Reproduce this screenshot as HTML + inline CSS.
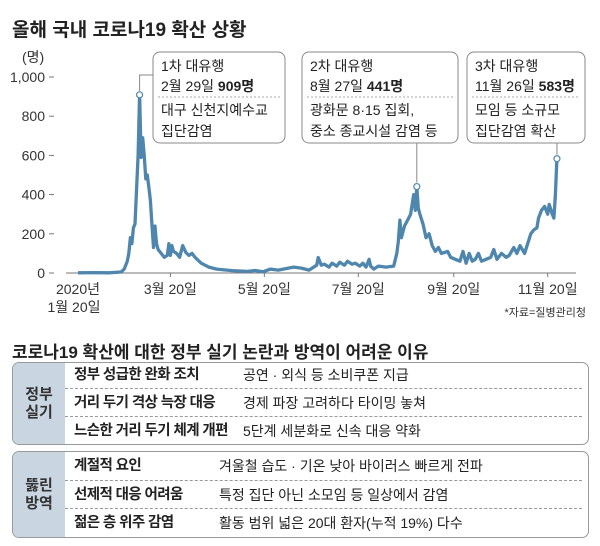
<!DOCTYPE html>
<html><head><meta charset="utf-8">
<style>
body{margin:0;background:#fff;width:600px;height:546px;overflow:hidden;font-family:"Liberation Sans","Noto Sans CJK KR",sans-serif;color:#222}
svg text{font-family:"Liberation Sans","Noto Sans CJK KR",sans-serif}
.tbl{position:absolute;left:12px;width:575px;border:1px solid #999;border-radius:7px;overflow:hidden;background:#fff}
.lab{position:absolute;left:0;top:0;bottom:0;width:52px;background:#c9d6e2;display:flex;align-items:center;justify-content:center;text-align:center;font-size:15px;line-height:18px;font-weight:bold;color:#333}
.row{position:absolute;left:52px;right:0;height:28px;font-size:14px;line-height:28px}
.row b{position:absolute;left:9px;font-size:14.5px;letter-spacing:-0.6px}
.row span{position:absolute}
.dv{position:absolute;left:52px;right:6px;border-top:1px dashed #999}
</style></head><body>
<svg id="chart" width="600" height="330" style="position:absolute;left:0;top:0">
<text x="12" y="36" font-size="19" font-weight="bold" fill="#222">올해 국내 코로나19 확산 상황</text>
<text x="22" y="62" font-size="14" fill="#333">(명)</text>
<g id="axes"></g>
<g id="series"></g>
<g id="notes"></g>
<text x="586" y="316" font-size="11" fill="#333" text-anchor="end">*자료=질병관리청</text>
</svg>
<script>
const days=[0,10,20,28,30,32,33,34,35,36,37,38,39,40,41,42,43,44,45,46,47,48,49,50,51,52,54,56,58,59,60,61,62,64,66,68,70,72,74,76,80,85,90,100,110,115,120,125,130,140,145,150,155,156,158,160,163,165,168,170,173,175,178,180,183,185,187,189,190,192,195,200,205,207,208,209,210,212,214,216,218,219,220,221,222,224,226,228,230,232,234,236,240,242,245,248,250,252,254,256,258,260,262,265,268,270,272,275,278,280,283,285,287,290,292,294,296,298,299,301,303,305,306,308,309,310,311];
const cases=[1,2,1,5,20,60,100,180,150,230,250,420,600,909,590,690,600,480,500,440,370,250,130,240,150,120,100,80,90,150,90,140,110,100,80,140,105,90,100,80,50,30,20,12,8,13,6,20,15,30,25,15,40,79,40,45,30,50,35,55,40,60,45,50,35,50,30,70,35,20,35,30,35,100,160,270,180,240,270,300,400,320,441,330,300,250,180,200,140,110,130,100,110,80,70,60,110,50,100,60,70,100,60,70,80,120,70,100,80,90,130,100,140,100,150,200,220,230,280,320,340,300,350,300,280,400,583];
const yTicks=[0,200,400,600,800,1000];
const yTickLabels=["0","200","400","600","800","1,000"];
const xTickDays=[60,121,182,244,305];
const xTickLabels=["3월 20일","5월 20일","7월 20일","9월 20일","11월 20일"];
const X=d=>78+d*1.54, Y=v=>273-v*0.196;
const ns="http://www.w3.org/2000/svg";
function mk(tag,attrs,parent,txt){const e=document.createElementNS(ns,tag);for(const k in attrs)e.setAttribute(k,attrs[k]);if(txt!==undefined)e.textContent=txt;parent.appendChild(e);return e;}
const ax=document.getElementById('axes');
let base=mk('line',{x1:66,x2:576,y1:273,y2:273,stroke:'#777','stroke-width':1},ax);


yTicks.forEach((v,i)=>{
 const t=mk('text',{x:45,y:Y(v)+5,'font-size':14,fill:'#333','text-anchor':'end'},ax,yTickLabels[i]);
 
 
 const l=mk('line',{x1:49,x2:54,y1:Y(v),y2:Y(v),stroke:'#777'},ax);
 
 
});
xTickDays.forEach((d,i)=>{
 const l=mk('line',{x1:X(d),x2:X(d),y1:273,y2:277,stroke:'#777'},ax);
 
 
 const t=mk('text',{x:X(d),y:294,'font-size':14,fill:'#333','text-anchor':'middle'},ax,xTickLabels[i]);
 
 
});
const s1=mk('text',{x:X(0),y:294,'font-size':14,fill:'#333','text-anchor':'middle'},ax,"2020년");


const s2=mk('text',{x:X(0)-4,y:312,'font-size':14,fill:'#333','text-anchor':'middle'},ax,"1월 20일");


const sg=document.getElementById('series');
const p=mk('path',{d:days.map((d,i)=>(i?'L':'M')+X(d).toFixed(1)+' '+Y(cases[i]).toFixed(1)).join(' '),fill:'none',stroke:'#4f86ad','stroke-width':3.3,'stroke-linejoin':'round'},sg);


const notes=[
 {d:40,bx:153,w:132,l1:"1차 대유행",l2a:"2월 29일 ",l2b:"909명",l3:"대구 신천지예수교",l4:"집단감염",side:true},
 {d:220,bx:302,w:156,l1:"2차 대유행",l2a:"8월 27일 ",l2b:"441명",l3:"광화문 8·15 집회,",l4:"중소 종교시설 감염 등"},
 {d:311,bx:467,w:118,l1:"3차 대유행",l2a:"11월 26일 ",l2b:"583명",l3:"모임 등 소규모",l4:"집단감염 확산"}];
const ng=document.getElementById('notes');
notes.forEach((n,k)=>{
 const i=days.indexOf(n.d);const px=X(n.d),py=Y(cases[i]);
 const g=mk('g',{},ng);
 
 
 if(n.side){mk('polyline',{points:`${px},${py-4} ${px},75 ${n.bx},75`,fill:'none',stroke:'#888'},g);}
 else{mk('line',{x1:px,x2:px,y1:143,y2:py-4,stroke:'#888'},g);}
 mk('rect',{x:n.bx,y:52,width:n.w,height:91,rx:7,fill:'#fff',stroke:'#888'},g);
 mk('line',{x1:n.bx+5,x2:n.bx+n.w-5,y1:97,y2:97,stroke:'#aaa','stroke-dasharray':'2,2'},g);
 mk('text',{x:n.bx+8,y:71,'font-size':14,fill:'#222'},g,n.l1);
 const t=mk('text',{x:n.bx+8,y:91,'font-size':14,fill:'#222'},g,n.l2a);
 mk('tspan',{'font-weight':'bold'},t,n.l2b);
 mk('text',{x:n.bx+8,y:115,'font-size':14,fill:'#222'},g,n.l3);
 mk('text',{x:n.bx+8,y:136,'font-size':14,fill:'#222'},g,n.l4);
 const c=mk('circle',{cx:px,cy:py,r:3,fill:'#fff',stroke:'#4f86ad','stroke-width':1.2},ng);
 
 
});
</script>
<div style="position:absolute;left:12px;top:338px;font-size:17px;font-weight:bold;color:#222">코로나19 확산에 대한 정부 실기 논란과 방역이 어려운 이유</div>
<div class="tbl" style="top:362px;height:81px">
 <div class="lab">정부<br>실기</div>
 <div class="row" style="top:-2px"><b>정부 성급한 완화 조치</b><span style="left:178px">공연 · 외식 등 소비쿠폰 지급</span></div>
 <div class="dv" style="top:25px"></div>
 <div class="row" style="top:26px"><b>거리 두기 격상 늑장 대응</b><span style="left:178px">경제 파장 고려하다 타이밍 놓쳐</span></div>
 <div class="dv" style="top:53px"></div>
 <div class="row" style="top:54px"><b>느슨한 거리 두기 체계 개편</b><span style="left:178px">5단계 세분화로 신속 대응 약화</span></div>
</div>
<div class="tbl" style="top:451px;height:85px">
 <div class="lab">뚫린<br>방역</div>
 <div class="row" style="top:0px"><b>계절적 요인</b><span style="left:154px">겨울철 습도 · 기온 낮아 바이러스 빠르게 전파</span></div>
 <div class="dv" style="top:28px"></div>
 <div class="row" style="top:29px"><b>선제적 대응 어려움</b><span style="left:154px">특정 집단 아닌 소모임 등 일상에서 감염</span></div>
 <div class="dv" style="top:56px"></div>
 <div class="row" style="top:57px"><b>젊은 층 위주 감염</b><span style="left:154px">활동 범위 넓은 20대 환자(누적 19%) 다수</span></div>
</div>
</body></html>
